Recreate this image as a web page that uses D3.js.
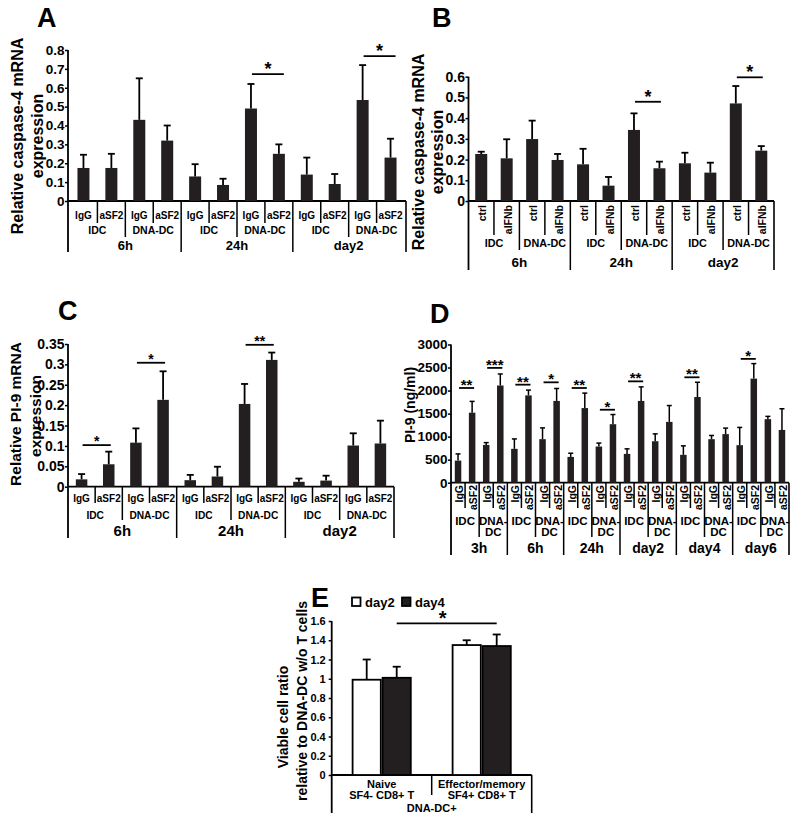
<!DOCTYPE html>
<html><head><meta charset="utf-8">
<script src="https://cdn.jsdelivr.net/npm/d3@7"></script>
<style>
body{margin:0;background:#fff}
svg text{font-family:"Liberation Sans",Arial,Helvetica,sans-serif;font-weight:bold;fill:#000}
</style></head><body>
<svg id="chart" width="800" height="825" style="background:#fff"></svg>
<script>
// ---------- DATA ----------
// Panel A: caspase-4 mRNA, IgG vs aSF2
const aTimes = ["6h","24h","day2"];
const aCells = ["IDC","DNA-DC"];
const aTreatments = ["IgG","aSF2"];
const aMeans  = [0.175,0.175,0.43,0.32, 0.13,0.085,0.49,0.25, 0.14,0.09,0.535,0.23];
const aErrors = [0.07,0.075,0.22,0.08, 0.065,0.033,0.13,0.05, 0.09,0.053,0.185,0.10];
const aTicks = [0,0.1,0.2,0.3,0.4,0.5,0.6,0.7,0.8];
const aTickLabels = ["0","0.1","0.2","0.3","0.4","0.5","0.6","0.7","0.8"];
const aSig = [{from:6,to:7,level:0.672,label:"*"},{from:10,to:11,level:0.768,label:"*"}];

// Panel B: caspase-4 mRNA, ctrl vs aIFNb
const bTimes = ["6h","24h","day2"];
const bCells = ["IDC","DNA-DC"];
const bTreatments = ["ctrl","aIFNb"];
const bMeans  = [0.227,0.206,0.299,0.198, 0.177,0.074,0.343,0.158, 0.182,0.137,0.471,0.243];
const bErrors = [0.011,0.092,0.089,0.029, 0.075,0.042,0.08,0.032, 0.051,0.048,0.084,0.022];
const bTicks = [0,0.1,0.2,0.3,0.4,0.5,0.6];
const bTickLabels = ["0","0.1","0.2","0.3","0.4","0.5","0.6"];
const bSig = [{from:6,to:7,level:0.479,label:"*"},{from:10,to:11,level:0.597,label:"*"}];

// Panel C: PI-9 mRNA
const cTimes = ["6h","24h","day2"];
const cCells = ["IDC","DNA-DC"];
const cTreatments = ["IgG","aSF2"];
const cMeans  = [0.018,0.055,0.108,0.213, 0.016,0.025,0.203,0.311, 0.012,0.015,0.101,0.106];
const cErrors = [0.013,0.031,0.035,0.07, 0.013,0.024,0.049,0.018, 0.008,0.012,0.03,0.056];
const cTicks = [0,0.05,0.1,0.15,0.2,0.25,0.3,0.35];
const cTickLabels = ["0","0.05","0.1","0.15","0.2","0.25","0.3","0.35"];
const cSig = [{from:0,to:1,level:0.102,label:"*"},{from:2,to:3,level:0.304,label:"*"},{from:6,to:7,level:0.348,label:"**"}];

// Panel D: PI-9 protein (ng/ml)
const dTimes = ["3h","6h","24h","day2","day4","day6"];
const dCells = ["IDC","DNA-DC"];
const dTreatments = ["IgG","aSF2"];
const dMeans  = [480,1520,820,2110, 735,1895,945,1775, 560,1620,785,1270, 625,1775,900,1320, 605,1860,945,1055, 815,2260,1380,1145];
const dErrors = [145,245,50,250, 215,115,245,270, 80,325,75,210, 110,305,160,355, 195,320,80,130, 385,325,60,460];
const dTicks = [0,500,1000,1500,2000,2500,3000];
const dTickLabels = ["0","500","1000","1500","2000","2500","3000"];
const dSig = [{from:0,to:1,level:2056,label:"**"},{from:2,to:3,level:2492,label:"***"},
  {from:4,to:5,level:2128,label:"**"},{from:6,to:7,level:2179,label:"*"},
  {from:8,to:9,level:2056,label:"**"},{from:10,to:11,level:1584,label:"*"},
  {from:12,to:13,level:2200,label:"**"},{from:16,to:17,level:2288,label:"**"},
  {from:20,to:21,level:2688,label:"*"}];

// Panel E: viable cell ratio
const eGroups = [["Naive","SF4- CD8+ T"],["Effector/memory","SF4+ CD8+ T"]];
const eSeries = ["day2","day4"];
const eDay2Means = [0.99,1.35];
const eDay2Errors = [0.21,0.05];
const eDay4Means = [1.01,1.34];
const eDay4Errors = [0.115,0.12];
const eTicks = [0,0.2,0.4,0.6,0.8,1,1.2,1.4,1.6];
const eTickLabels = ["0","0.2","0.4","0.6","0.8","1","1.2","1.4","1.6"];
const eSig = [{from:0,to:1,level:1.576,label:"*"}];

// ---------- DRAWING ----------
const BAR = "#231f20";
const svg = d3.select("#chart");

function vline(g,x,y1,y2,w){g.append("line").attr("x1",x).attr("x2",x).attr("y1",y1).attr("y2",y2).attr("stroke","#000").attr("stroke-width",w||1.6);}
function hline(g,x1,x2,y,w){g.append("line").attr("x1",x1).attr("x2",x2).attr("y1",y).attr("y2",y).attr("stroke","#000").attr("stroke-width",w||1.6);}

function yTitle(g,lines,xs,ys,fs){
  lines.forEach((t,i)=>{
    g.append("text").attr("transform",`translate(${xs[i]},${ys[i]}) rotate(-90)`)
      .attr("text-anchor","middle").attr("dominant-baseline","central")
      .attr("font-size",fs).text(t);
  });
}

function yAxis(g,c,y){
  const axis = d3.axisLeft(y).tickValues(c.ticks).tickFormat((d,i)=>c.tickLabels[i])
    .tickSize(3).tickSizeOuter(0).tickPadding(c.tickPad||0.5);
  const ga = g.append("g").attr("transform",`translate(${c.ax},0)`).call(axis)
    .attr("font-size",c.tickFont).attr("font-family",null);
  ga.select(".domain").remove();
  ga.selectAll(".tick line").attr("stroke","#000").attr("stroke-width",1.5);
}

function drawPanel(c){
  const g = svg.append("g");
  const n = c.means.length;
  const x = d3.scaleBand().domain(d3.range(n)).range([c.bx0,c.bx1]);
  const y = d3.scaleLinear().domain([0,c.ymax]).range([c.y0,c.yTop]);
  const bw = x.bandwidth();
  const cx = i => x(i)+bw/2;
  yAxis(g,c,y);
  // axis lines
  vline(g,c.ax,y(c.ymax),c.sep[2],1.8);
  hline(g,c.ax,c.axEnd,y(0),1.8);
  vline(g,c.axEnd,y(0),c.sep[2],1.6);
  // bars
  g.selectAll("rect.bar").data(c.means).join("rect").attr("class","bar")
    .attr("x",(d,i)=>cx(i)-c.barW/2).attr("y",d=>y(d))
    .attr("width",c.barW).attr("height",d=>y(0)-y(d)).attr("fill",BAR);
  // error bars
  c.means.forEach((m,i)=>{
    const t = m + c.errs[i];
    g.append("line").attr("x1",cx(i)).attr("x2",cx(i)).attr("y1",y(m)).attr("y2",y(t))
      .attr("stroke","#000").attr("stroke-width",c.errW||1.8);
    hline(g,cx(i)-c.capW/2,cx(i)+c.capW/2,y(t),c.errW||1.8);
  });
  // separators
  const nT = c.treat.length, nG = nT*c.cells.length;
  for(let k=1;k<n;k++){
    const lvl = k%nG===0 ? 2 : (k%nT===0 ? 1 : 0);
    vline(g,x(k),y(0),c.sep[lvl],1.5);
  }
  // row 1 labels
  for(let i=0;i<n;i++){
    const t = c.treat[i%nT];
    if(c.r1Rot){
      g.append("text").attr("transform",`translate(${cx(i)+1},${c.r1}) rotate(-90)`)
        .attr("text-anchor","end").attr("dominant-baseline","central")
        .attr("font-size",c.r1Font).text(t);
    } else {
      g.append("text").attr("x",cx(i)).attr("y",c.r1).attr("text-anchor","middle")
        .attr("dominant-baseline","central").attr("font-size",c.r1Font).text(t);
    }
  }
  // row 2 labels
  for(let j=0;j<n/nT;j++){
    const mid = (x(j*nT)+x(j*nT+nT-1)+bw)/2;
    const t = c.cells[j%c.cells.length];
    if(c.r2Wrap && t.includes("-")){
      const parts = t.split("-");
      g.append("text").attr("x",mid).attr("y",c.r2).attr("text-anchor","middle")
        .attr("dominant-baseline","central").attr("font-size",c.r2Font).text(parts[0]+"-");
      g.append("text").attr("x",mid).attr("y",c.r2+c.r2Wrap).attr("text-anchor","middle")
        .attr("dominant-baseline","central").attr("font-size",c.r2Font).text(parts[1]);
    } else {
      g.append("text").attr("x",mid).attr("y",c.r2).attr("text-anchor","middle")
        .attr("dominant-baseline","central").attr("font-size",c.r2Font).text(t);
    }
  }
  // row 3 labels
  for(let k=0;k<n/nG;k++){
    const mid = (x(k*nG)+x(k*nG+nG-1)+bw)/2;
    g.append("text").attr("x",mid).attr("y",c.r3).attr("text-anchor","middle")
      .attr("dominant-baseline","central").attr("font-size",c.r3Font).text(c.times[k]);
  }
  // significance
  c.sig.forEach(s=>{
    const x1 = cx(s.from)+1, x2 = cx(s.to)+c.sigEnd, yy = y(s.level);
    hline(g,x1,x2,yy,1.8);
    g.append("text").attr("x",(x1+x2)/2).attr("y",yy+c.starDy).attr("text-anchor","middle")
      .attr("font-size",c.starFont).text(s.label);
  });
  yTitle(g,c.titles,c.titleX,c.titleY,c.titleFont);
  g.append("text").attr("x",c.letterX).attr("y",c.letterY).attr("font-size",27).text(c.letter);
}

drawPanel({letter:"A",letterX:37,letterY:27,
  titles:["Relative caspase-4 mRNA","expression"],titleX:[17,37],titleY:[136,136],titleFont:16,
  ax:68,axEnd:406,bx0:69.5,bx1:404.5,y0:201,yTop:50,ymax:0.8,
  ticks:aTicks,tickLabels:aTickLabels,tickFont:13.5,
  means:aMeans,errs:aErrors,barW:12,capW:7,
  treat:aTreatments,cells:aCells,times:aTimes,
  r1:215,r1Rot:false,r1Font:10,r2:230,r2Font:10.5,r3:245,r3Font:13,
  sep:[223,237,252],sig:aSig,starFont:18,starDy:1,sigEnd:5});

drawPanel({letter:"B",letterX:432,letterY:27,
  titles:["Relative caspase-4 mRNA","expression"],titleX:[418,437],titleY:[152,152],titleFont:16,
  ax:468.5,axEnd:774,bx0:468.5,bx1:774,y0:201,yTop:76.7,ymax:0.6,
  ticks:bTicks,tickLabels:bTickLabels,tickFont:14,
  means:bMeans,errs:bErrors,barW:12,capW:7,
  treat:bTreatments,cells:bCells,times:bTimes,
  r1:205,r1Rot:true,r1Font:10.5,r2:243,r2Font:10.8,r3:262,r3Font:13.5,
  sep:[235,250,270],sig:bSig,starFont:18,starDy:1,sigEnd:1.5});

drawPanel({letter:"C",letterX:58,letterY:320,
  titles:["Relative PI-9 mRNA","expression"],titleX:[15,35],titleY:[414,416],titleFont:15.5,
  ax:68,axEnd:394,bx0:68,bx1:394,y0:486.7,yTop:344,ymax:0.35,
  ticks:cTicks,tickLabels:cTickLabels,tickFont:14,
  means:cMeans,errs:cErrors,barW:11.5,capW:7,
  treat:cTreatments,cells:cCells,times:cTimes,
  r1:498,r1Rot:false,r1Font:10,r2:515,r2Font:10.2,r3:530,r3Font:15,
  sep:[503,520,538],sig:cSig,starFont:14,starDy:1,sigEnd:2});

drawPanel({letter:"D",letterX:430,letterY:323,
  titles:["PI-9 (ng/ml)"],titleX:[410],titleY:[405],titleFont:14,
  ax:451,axEnd:789,bx0:451,bx1:789,y0:482.7,yTop:344.5,ymax:3000,
  ticks:dTicks,tickLabels:dTickLabels,tickFont:13.5,
  means:dMeans,errs:dErrors,barW:6.5,capW:5,errW:1.5,
  treat:dTreatments,cells:dCells,times:dTimes,
  r1:485,r1Rot:true,r1Font:10.5,r2:521,r2Font:11.5,r2Wrap:10.5,r3:548,r3Font:14,
  sep:[508,537,555],sig:dSig,starFont:15,starDy:2,sigEnd:2});

// Panel E
(function(){
  const c = {ax:331.7,axEnd:531.7,y0:775,yTop:621,ymax:1.6,ticks:eTicks,tickLabels:eTickLabels,tickFont:11,tickPad:3};
  const g = svg.append("g");
  const x = d3.scaleBand().domain(d3.range(eGroups.length)).range([c.ax,c.axEnd]);
  const xs = d3.scaleBand().domain(eSeries).range([0,x.bandwidth()]).paddingOuter(0.667);
  const y = d3.scaleLinear().domain([0,c.ymax]).range([c.y0,c.yTop]);
  yAxis(g,c,y);
  vline(g,c.ax,y(c.ymax),813,1.8);
  hline(g,c.ax,c.axEnd,y(0),1.8);
  vline(g,c.axEnd,y(0),813,1.6);
  vline(g,x(1),y(0),795,1.5);
  const series = [
    {name:"day2",means:eDay2Means,errs:eDay2Errors,fill:"#fff"},
    {name:"day4",means:eDay4Means,errs:eDay4Errors,fill:BAR}];
  const cxOf = (s,i)=>x(i)+xs(s)+xs.bandwidth()/2;
  series.forEach(s=>{
    s.means.forEach((m,i)=>{
      const bx = x(i)+xs(s.name);
      g.append("rect").attr("x",bx+0.9).attr("y",y(m)).attr("width",xs.bandwidth()-1.8).attr("height",y(0)-y(m))
        .attr("fill",s.fill).attr("stroke","#000").attr("stroke-width",1.8);
      const cxx = cxOf(s.name,i), t = m+s.errs[i];
      g.append("line").attr("x1",cxx).attr("x2",cxx).attr("y1",y(m)).attr("y2",y(t)).attr("stroke","#000").attr("stroke-width",1.8);
      hline(g,cxx-4,cxx+4,y(t),1.8);
    });
  });
  // category labels
  eGroups.forEach((lines,i)=>{
    const mid = x(i)+x.bandwidth()/2;
    lines.forEach((t,k)=>{
      g.append("text").attr("x",mid).attr("y",784+k*11).attr("text-anchor","middle")
        .attr("dominant-baseline","central").attr("font-size",11).text(t);
    });
  });
  g.append("text").attr("x",(c.ax+c.axEnd)/2).attr("y",808).attr("text-anchor","middle")
    .attr("dominant-baseline","central").attr("font-size",11).text("DNA-DC+");
  // significance (day4 bars of both groups)
  eSig.forEach(s=>{
    const x1 = cxOf("day4",s.from), x2 = cxOf("day4",s.to), yy = y(s.level);
    hline(g,x1,x2,yy,1.8);
    g.append("text").attr("x",(x1+x2)/2-4).attr("y",yy+2).attr("text-anchor","middle").attr("font-size",20).text(s.label);
  });
  // legend
  const leg = [{name:eSeries[0],fill:"#fff",x:352},{name:eSeries[1],fill:BAR,x:402}];
  leg.forEach(l=>{
    g.append("rect").attr("x",l.x).attr("y",597.5).attr("width",8.5).attr("height",8.5)
      .attr("fill",l.fill).attr("stroke","#000").attr("stroke-width",1.8);
    g.append("text").attr("x",l.x+13).attr("y",602).attr("dominant-baseline","central")
      .attr("font-size",13).text(l.name);
  });
  yTitle(g,["Viable cell ratio","relative to DNA-DC w/o T cells"],[283,301.5],[717,701],14);
  g.append("text").attr("x",311).attr("y",607).attr("font-size",27).text("E");
})();
</script>
</body></html>
